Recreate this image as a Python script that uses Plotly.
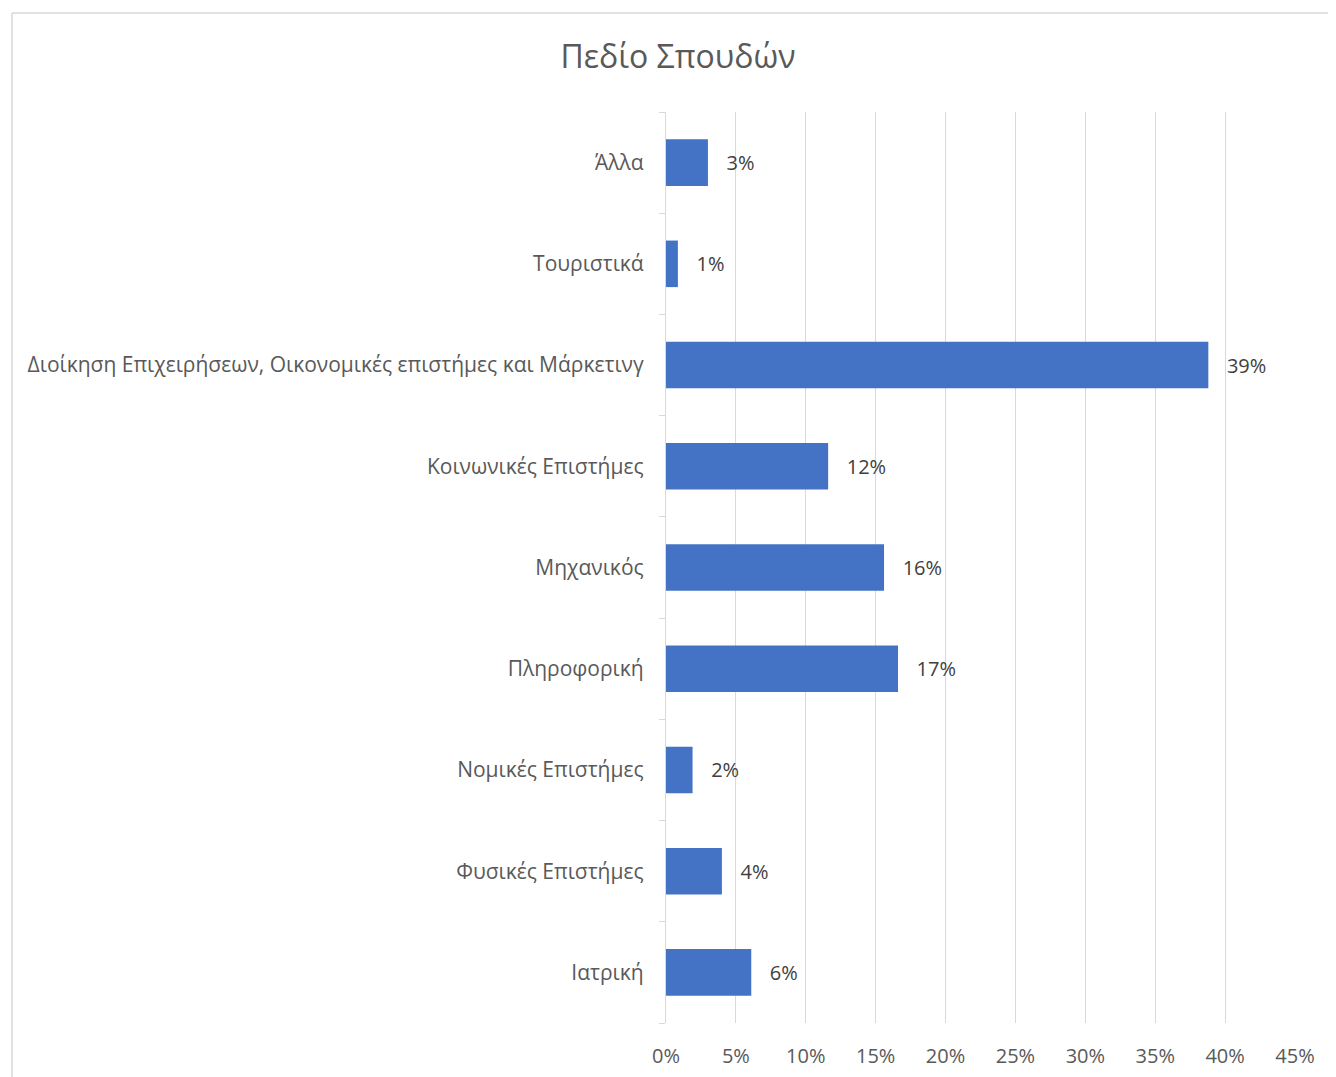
import plotly.graph_objects as go

categories = ["Ιατρική", "Φυσικές Επιστήμες", "Νομικές Επιστήμες", "Πληροφορική",
              "Μηχανικός", "Κοινωνικές Επιστήμες",
              "Διοίκηση Επιχειρήσεων, Οικονομικές επιστήμες και Μάρκετινγ",
              "Τουριστικά", "Άλλα"]
values = [6.1, 4.0, 1.9, 16.6, 15.6, 11.6, 38.8, 0.85, 3.0]
labels = ["6%", "4%", "2%", "17%", "16%", "12%", "39%", "1%", "3%"]
tick_vals = [0, 5, 10, 15, 20, 25, 30, 35, 40, 45]
tick_text = ["0%", "5%", "10%", "15%", "20%", "25%", "30%", "35%", "40%", "45%"]

FONT = "Open Sans"
OFF = 8  # page body offset
W, H = 1336, 1077
L, R, T, B = 666 - OFF, 1295 - OFF, 112 - OFF, 1023 - OFF

fig = go.Figure(go.Bar(
    y=categories, x=values, orientation="h",
    marker=dict(color="#4472c4", line=dict(width=0)),
    width=0.46,
    text=["   " + s for s in labels], textposition="outside",
    textfont=dict(family=FONT, size=20, color="#404040"),
    cliponaxis=False,
))

fig.update_layout(
    width=W, height=H,
    margin=dict(l=L, r=W - R, t=T, b=H - B, pad=0),
    paper_bgcolor="white", plot_bgcolor="white",
    title=dict(text="Πεδίο Σπουδών", x=(678 - OFF) / W, xanchor="center",
               font=dict(family=FONT, size=32, color="#595959"),
               y=1 - (57 - OFF) / H, yanchor="middle"),
    showlegend=False,
    xaxis=dict(range=[0, 45], tickvals=tick_vals, ticktext=tick_text,
               showgrid=True, gridcolor="#d9d9d9", gridwidth=1.3, zeroline=False,
               showline=False, ticks="outside", ticklen=15, tickcolor="rgba(0,0,0,0)",
               tickfont=dict(family=FONT, size=20, color="#595959")),
    yaxis=dict(showline=True, linecolor="#d9d9d9", linewidth=1.3,
               ticks="outside", tickson="boundaries", ticklen=6, tickcolor="#d9d9d9",
               tickfont=dict(family=FONT, size=21, color="#595959"),
               ticklabelstandoff=17, automargin=False),
)

# Chart border (top and left visible)
x0 = (12 - OFF - L) / (R - L)
x1 = (W + 20 - L) / (R - L)
ytop = (B - (13 - OFF)) / (B - T)
ybot = (B - (H + 20)) / (B - T)
fig.add_shape(type="line", xref="paper", yref="paper", x0=x0, x1=x1, y0=ytop, y1=ytop,
              line=dict(color="#d9d9d9", width=1.5))
fig.add_shape(type="line", xref="paper", yref="paper", x0=x0, x1=x0, y0=ytop, y1=ybot,
              line=dict(color="#d9d9d9", width=1.5))

fig.write_html("out.html")
